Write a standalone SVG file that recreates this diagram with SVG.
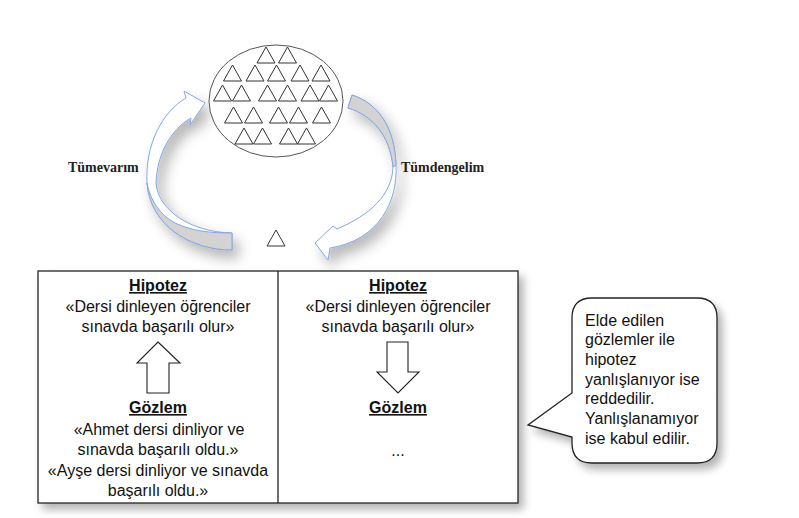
<svg xmlns="http://www.w3.org/2000/svg" xmlns:xlink="http://www.w3.org/1999/xlink" width="799" height="518" viewBox="0 0 799 518">
<style>
  .cell { font-family: "Liberation Sans", Arial, sans-serif; font-size: 16px; fill: #111; text-anchor: middle; }
  .head { font-weight: bold; text-decoration: underline; }
  .bub { font-family: "Liberation Sans", Arial, sans-serif; font-size: 16px; fill: #111; }
  .lbl { font-family: "Liberation Serif", "Times New Roman", serif; font-size: 14px; font-weight: bold; fill: #222; }
  .tri { fill: none; stroke: #333; stroke-width: 1; }
  .rib { fill: #fff; stroke: #86a6e4; stroke-width: 1; }
  .ribg { fill: #d3d3d3; stroke: #86a6e4; stroke-width: 1; }
  .box { fill: #fff; stroke: #222; stroke-width: 1.3; }
  .blk { fill: #fff; stroke: #222; stroke-width: 1.1; }
</style>
<defs>
  <filter id="sh" x="-20%" y="-20%" width="150%" height="150%">
    <feGaussianBlur in="SourceAlpha" stdDeviation="4"/>
    <feOffset dx="5" dy="6"/>
    <feComponentTransfer><feFuncA type="linear" slope="0.3"/></feComponentTransfer>
    <feMerge><feMergeNode/><feMergeNode in="SourceGraphic"/></feMerge>
  </filter>
  <filter id="sh2" x="-50%" y="-50%" width="200%" height="200%">
    <feGaussianBlur in="SourceAlpha" stdDeviation="7"/>
    <feOffset dx="6" dy="8"/>
    <feComponentTransfer><feFuncA type="linear" slope="0.3"/></feComponentTransfer>
    <feMerge><feMergeNode/><feMergeNode in="SourceGraphic"/></feMerge>
  </filter>
  <path id="t" class="tri" d="M0,0 L9,16 L-9,16 Z"/>
</defs>
<rect width="799" height="518" fill="#fff"/>

<g id="connectors">
  <g id="arrow-tumevarim" filter="url(#sh2)">
    <path class="rib" d="M232,250 C190,250 150,225 147,183 C145,145 162,112 186,98 L184,91 L205,103 L190,125 L191,118 C170,130 157,155 156,183 C158,210 190,232 232,233 Z"/>
    <path class="ribg" d="M232,250 C190,250 150,225 147,183 C150,200 160,215 175,223 C192,231 210,233 232,233 Z"/>
  </g>
  <g id="arrow-tumdengelim" filter="url(#sh2)">
    <path class="rib" d="M352,95 C378,103 395,128 396,165 C398,200 380,240 330,248 L328,260 L315,243 L333,226 L337,229 C370,215 392,195 393,167 C390,135 372,115 348,108 Z"/>
    <path class="ribg" d="M352,95 C378,103 395,128 396,165 L393,167 C390,135 372,115 348,108 Z"/>
  </g>
  <text class="lbl" x="68" y="172">Tümevarım</text>
  <text class="lbl" x="401" y="172">Tümdengelim</text>
</g>

<g id="population">
  <ellipse cx="276" cy="101" rx="67" ry="56" fill="#fff" stroke="#555" stroke-width="1"/>
  <use xlink:href="#t" x="266" y="47"/><use xlink:href="#t" x="287.5" y="47"/>
  <use xlink:href="#t" x="232.5" y="65"/><use xlink:href="#t" x="255" y="65"/><use xlink:href="#t" x="276.5" y="65"/><use xlink:href="#t" x="300" y="65"/><use xlink:href="#t" x="321" y="65"/>
  <use xlink:href="#t" x="222.5" y="85"/><use xlink:href="#t" x="241.5" y="85"/><use xlink:href="#t" x="267.5" y="85"/><use xlink:href="#t" x="287.5" y="85"/><use xlink:href="#t" x="310" y="85"/><use xlink:href="#t" x="328.5" y="85"/>
  <use xlink:href="#t" x="233.5" y="107"/><use xlink:href="#t" x="253.5" y="107"/><use xlink:href="#t" x="278.5" y="107"/><use xlink:href="#t" x="298.5" y="107"/><use xlink:href="#t" x="321.5" y="107"/>
  <use xlink:href="#t" x="244" y="128"/><use xlink:href="#t" x="262.5" y="128"/><use xlink:href="#t" x="288.5" y="128"/><use xlink:href="#t" x="306.5" y="128"/>
</g>

<g id="sample">
  <use xlink:href="#t" x="276" y="230"/>
</g>

<g id="table" filter="url(#sh)">
  <rect class="box" x="38" y="271" width="480" height="232"/>
  <line x1="278" y1="271" x2="278" y2="503" stroke="#222" stroke-width="1.3"/>
</g>

<g id="cell-left">
  <text class="cell head" x="158" y="291">Hipotez</text>
  <text class="cell" x="158" y="312">«Dersi dinleyen öğrenciler</text>
  <text class="cell" x="158" y="332">sınavda başarılı olur»</text>
  <path class="blk" d="M158,342 L180,363 L169,363 L169,393 L147,393 L147,363 L137,363 Z"/>
  <text class="cell head" x="158" y="413">Gözlem</text>
  <text class="cell" x="159" y="435">«Ahmet dersi dinliyor ve</text>
  <text class="cell" x="158" y="455">sınavda başarılı oldu.»</text>
  <text class="cell" x="158" y="476">«Ayşe dersi dinliyor ve sınavda</text>
  <text class="cell" x="158" y="496">başarılı oldu.»</text>
</g>

<g id="cell-right">
  <text class="cell head" x="398" y="291">Hipotez</text>
  <text class="cell" x="398" y="312">«Dersi dinleyen öğrenciler</text>
  <text class="cell" x="398" y="332">sınavda başarılı olur»</text>
  <path class="blk" d="M387,342 L408,342 L408,372 L419,372 L398,393 L377,372 L387,372 Z"/>
  <text class="cell head" x="398" y="413">Gözlem</text>
  <text class="cell" x="398" y="456">...</text>
</g>

<g id="bubble">
  <path class="box" filter="url(#sh)" d="M592,298 H697 Q717,298 717,318 V443 Q717,463 697,463 H592 Q572,463 572,443 V437 L528,425 L572,393 V318 Q572,298 592,298 Z"/>
  <text class="bub" x="585" y="326">Elde edilen</text>
  <text class="bub" x="585" y="345">gözlemler ile</text>
  <text class="bub" x="585" y="365">hipotez</text>
  <text class="bub" x="585" y="385">yanlışlanıyor ise</text>
  <text class="bub" x="585" y="404">reddedilir.</text>
  <text class="bub" x="585" y="424">Yanlışlanamıyor</text>
  <text class="bub" x="585" y="444">ise kabul edilir.</text>
</g>
</svg>
